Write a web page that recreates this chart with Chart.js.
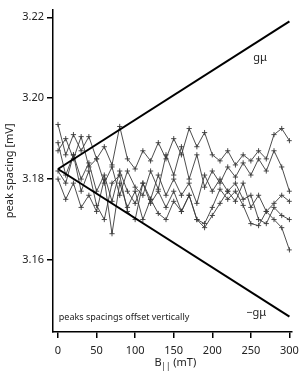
<!DOCTYPE html>
<html>
<head>
<meta charset="utf-8">
<script src="https://cdn.jsdelivr.net/npm/chart.js@4.4.1/dist/chart.umd.min.js"></script>
<style>
  html, body { margin: 0; padding: 0; background: #fff; }
  #wrap { width: 305px; height: 373px; position: relative; }
</style>
</head>
<body>
<div id="wrap"><canvas id="peaks"></canvas></div>
<script>
// field values B|| (mT)
const fieldB = [0, 10, 20, 30, 40, 50, 60, 70, 80, 90, 100, 110, 120, 130, 140, 150,
                160, 170, 180, 190, 200, 210, 220, 230, 240, 250, 260, 270, 280, 290, 300];

// peak spacing traces (mV), offset vertically
const trace1 = [3.1935, 3.1860, 3.1910, 3.1870, 3.1905, 3.1850, 3.1880, 3.1835, 3.1930, 3.1850, 3.1825,
                3.1870, 3.1845, 3.1890, 3.1850, 3.1900, 3.1860, 3.1925, 3.1880, 3.1915, 3.1860, 3.1845,
                3.1870, 3.1835, 3.1860, 3.1845, 3.1870, 3.1850, 3.1910, 3.1925, 3.1895];
const trace2 = [3.1870, 3.1900, 3.1850, 3.1905, 3.1830, 3.1850, 3.1790, 3.1830, 3.1760, 3.1820, 3.1780,
                3.1760, 3.1820, 3.1775, 3.1860, 3.1810, 3.1880, 3.1800, 3.1860, 3.1780, 3.1820, 3.1790,
                3.1830, 3.1805, 3.1840, 3.1810, 3.1850, 3.1820, 3.1870, 3.1830, 3.1770];
const trace3 = [3.1820, 3.1790, 3.1860, 3.1800, 3.1840, 3.1770, 3.1810, 3.1745, 3.1820, 3.1770, 3.1740,
                3.1790, 3.1750, 3.1810, 3.1760, 3.1800, 3.1760, 3.1790, 3.1740, 3.1810, 3.1770, 3.1800,
                3.1770, 3.1790, 3.1750, 3.1760, 3.1700, 3.1690, 3.1730, 3.1710, 3.1700];
const trace4 = [3.1800, 3.1750, 3.1790, 3.1730, 3.1760, 3.1720, 3.1800, 3.1665, 3.1790, 3.1730, 3.1770,
                3.1700, 3.1750, 3.1715, 3.1700, 3.1745, 3.1720, 3.1760, 3.1700, 3.1690, 3.1730, 3.1775,
                3.1750, 3.1770, 3.1735, 3.1690, 3.1685, 3.1720, 3.1700, 3.1680, 3.1625];
const trace5 = [3.1890, 3.1810, 3.1860, 3.1770, 3.1820, 3.1735, 3.1700, 3.1790, 3.1810, 3.1720, 3.1700,
                3.1790, 3.1740, 3.1770, 3.1730, 3.1770, 3.1720, 3.1760, 3.1700, 3.1680, 3.1710, 3.1740,
                3.1770, 3.1745, 3.1790, 3.1730, 3.1760, 3.1720, 3.1740, 3.1760, 3.1745];

// Zeeman lines +g mu B and -g mu B
const lineB = [0, 300];
const gmuUp = [3.1825, 3.2190];
const gmuDown = [3.1825, 3.1460];

const xTicks = [0, 50, 100, 150, 200, 250, 300];
const yTicks = [3.16, 3.18, 3.20, 3.22];

const FONT = '"Noto Sans", sans-serif';

function pts(xs, ys) {
    return xs.map((x, i) => ({ x: x, y: ys[i] }));
}

function traceSet(values) {
    return {
        data: pts(fieldB, values),
        borderColor: '#3a3a3a',
        borderWidth: 0.9,
        pointStyle: 'cross',
        pointRadius: 2.6,
        pointBorderWidth: 0.9,
        pointBorderColor: '#3a3a3a',
        tension: 0
    };
}

function zeemanSet(values) {
    return {
        data: pts(lineB, values),
        borderColor: '#000',
        borderWidth: 2,
        pointRadius: 0,
        tension: 0
    };
}

// text labels inside the plot and the x axis title with subscript
const labelsPlugin = {
    id: 'labels',
    afterDraw(chart) {
        const ctx = chart.ctx;
        const xs = chart.scales.x;
        const ys = chart.scales.y;
        ctx.save();
        ctx.fillStyle = '#222';
        ctx.textBaseline = 'middle';
        ctx.font = '11px ' + FONT;
        ctx.textAlign = 'center';
        ctx.fillText('gμ', xs.getPixelForValue(262), ys.getPixelForValue(3.2100));
        ctx.fillText('−gμ', xs.getPixelForValue(257), ys.getPixelForValue(3.1470));
        ctx.font = '9px ' + FONT;
        ctx.textAlign = 'left';
        ctx.fillText('peaks spacings offset vertically', xs.getPixelForValue(1), ys.getPixelForValue(3.1457));

        // B|| (mT)
        const cx = (xs.left + xs.right) / 2 + 3;
        const cy = 363;
        ctx.font = '11px ' + FONT;
        const wB = ctx.measureText('B').width;
        const wU = ctx.measureText(' (mT)').width;
        ctx.font = '8px ' + FONT;
        const wS = ctx.measureText('||').width;
        let x0 = cx - (wB + wS + wU) / 2;
        ctx.font = '11px ' + FONT;
        ctx.fillText('B', x0, cy);
        ctx.font = '8px ' + FONT;
        ctx.fillText('||', x0 + wB, cy + 4);
        ctx.font = '11px ' + FONT;
        ctx.fillText(' (mT)', x0 + wB + wS, cy);
        ctx.restore();
    }
};

const ctx = document.getElementById('peaks').getContext('2d');
const chart = new Chart(ctx, {
    type: 'line',
    data: {
        datasets: [
            zeemanSet(gmuUp),
            zeemanSet(gmuDown),
            traceSet(trace1),
            traceSet(trace2),
            traceSet(trace3),
            traceSet(trace4),
            traceSet(trace5)
        ]
    },
    options: {
        responsive: true,
        maintainAspectRatio: false,
        animation: false,
        layout: { padding: { top: 0, right: 13, bottom: 0, left: 0 } },
        plugins: {
            legend: { display: false },
            tooltip: { enabled: false }
        },
        scales: {
            x: {
                type: 'linear',
                min: -6.5,
                max: 303,
                afterBuildTicks: s => { s.ticks = xTicks.map(v => ({ value: v })); },
                afterFit: s => { s.height = 41; },
                border: { display: true, color: '#000', width: 1.5 },
                grid: { display: true, drawOnChartArea: false, drawTicks: true, tickLength: 6, color: '#000', lineWidth: 1.5 },
                ticks: {
                    color: '#222',
                    font: { family: FONT, size: 11 },
                    padding: 6,
                    maxRotation: 0,
                    callback: v => String(v)
                }
            },
            y: {
                type: 'linear',
                min: 3.1422,
                max: 3.2219,
                afterBuildTicks: s => { s.ticks = yTicks.map(v => ({ value: v })); },
                afterFit: s => { s.width = 53; },
                border: { display: true, color: '#000', width: 1.5 },
                grid: { display: true, drawOnChartArea: false, drawTicks: true, tickLength: 6, color: '#000', lineWidth: 1.5 },
                ticks: {
                    color: '#222',
                    font: { family: FONT, size: 11 },
                    padding: 3,
                    callback: v => v.toFixed(2)
                },
                title: {
                    display: true,
                    text: 'peak spacing [mV]',
                    color: '#222',
                    font: { family: FONT, size: 11 },
                    padding: { top: 3, bottom: 0 }
                }
            }
        }
    },
    plugins: [labelsPlugin]
});
</script>
</body>
</html>
